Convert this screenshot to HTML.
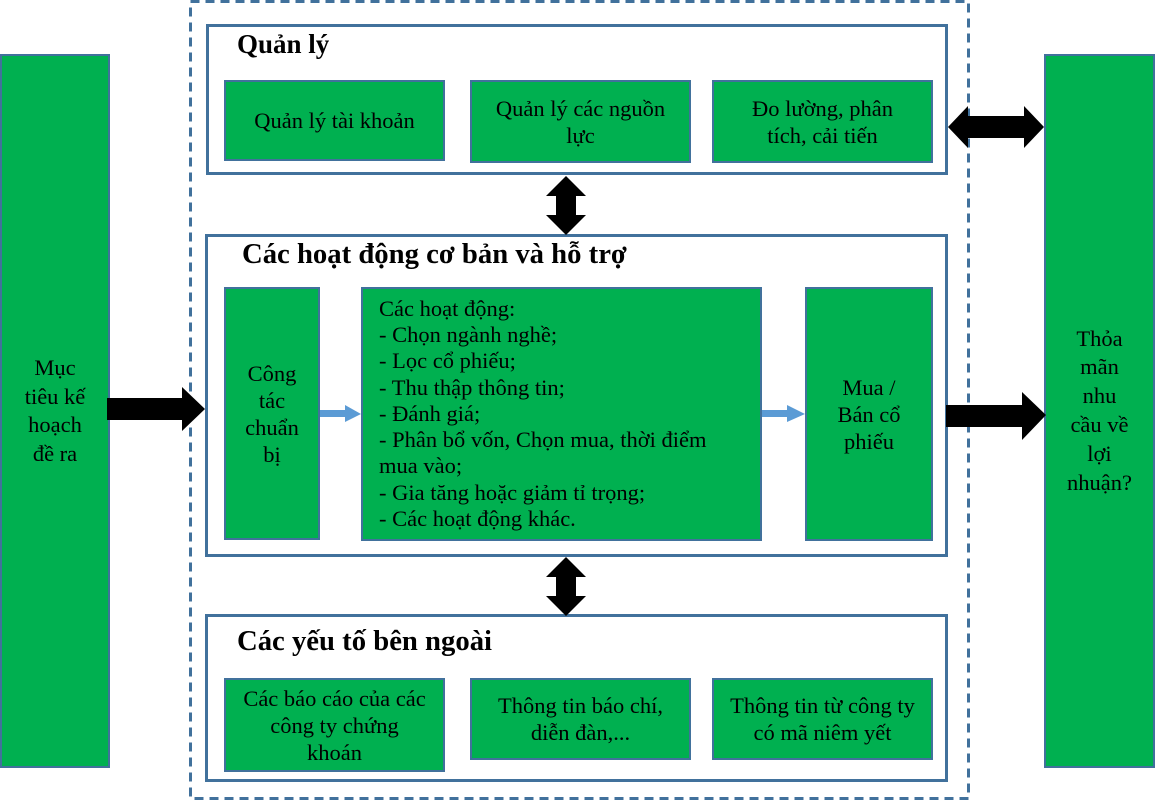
<!DOCTYPE html>
<html><head><meta charset="utf-8"><style>
body{margin:0;width:1155px;height:801px;position:relative;background:#fff;font-family:"Liberation Serif",serif;overflow:hidden}
.b{position:absolute;box-sizing:border-box}
.g{background:#00b050;border:2px solid #41719c;display:flex;align-items:center;justify-content:center;text-align:center;font-size:22.5px;line-height:27px;color:#000}
.p{border:3px solid #41719c;background:#fff}
.t{position:absolute;font-weight:bold;font-size:28.7px;white-space:nowrap}
</style></head><body>
<svg class="b" style="left:0;top:0" width="1155" height="801">
<rect x="190.5" y="1.5" width="778" height="797" fill="none" stroke="#41719c" stroke-width="3" stroke-dasharray="9,6"/>
</svg>
<div class="b g" style="left:0;top:54px;width:110px;height:714px;line-height:28.5px">Mục<br>tiêu kế<br>hoạch<br>đề ra</div>
<div class="b g" style="left:1044px;top:54px;width:111px;height:714px;line-height:28.8px">Thỏa<br>mãn<br>nhu<br>cầu về<br>lợi<br>nhuận?</div>

<div class="b p" style="left:206px;top:24px;width:742px;height:151px"></div>
<div class="t" style="left:237px;top:29px;font-size:27px">Quản lý</div>
<div class="b g" style="left:224px;top:80px;width:221px;height:81px">Quản lý tài khoản</div>
<div class="b g" style="left:470px;top:80px;width:221px;height:83px">Quản lý các nguồn<br>lực</div>
<div class="b g" style="left:712px;top:80px;width:221px;height:83px">Đo lường, phân<br>tích, cải tiến</div>

<div class="b p" style="left:205px;top:234px;width:743px;height:323px"></div>
<div class="t" style="left:242px;top:238px">Các hoạt động cơ bản và hỗ trợ</div>
<div class="b g" style="left:224px;top:287px;width:96px;height:253px">Công<br>tác<br>chuẩn<br>bị</div>
<div class="b g" style="left:361px;top:287px;width:401px;height:254px;justify-content:flex-start;text-align:left;padding-left:16px;line-height:26.3px;white-space:nowrap">Các hoạt động:<br>- Chọn ngành nghề;<br>- Lọc cổ phiếu;<br>- Thu thập thông tin;<br>- Đánh giá;<br>- Phân bổ vốn, Chọn mua, thời điểm<br>mua vào;<br>- Gia tăng hoặc giảm tỉ trọng;<br>- Các hoạt động khác.</div>
<div class="b g" style="left:805px;top:287px;width:128px;height:254px">Mua /<br>Bán cổ<br>phiếu</div>

<div class="b p" style="left:205px;top:614px;width:743px;height:168px"></div>
<div class="t" style="left:237px;top:625px">Các yếu tố bên ngoài</div>
<div class="b g" style="left:224px;top:678px;width:221px;height:94px">Các báo cáo của các<br>công ty chứng<br>khoán</div>
<div class="b g" style="left:470px;top:678px;width:221px;height:82px">Thông tin báo chí,<br>diễn đàn,...</div>
<div class="b g" style="left:712px;top:678px;width:221px;height:82px">Thông tin từ công ty<br>có mã niêm yết</div>

<svg class="b" style="left:0;top:0" width="1155" height="801">
<polygon points="566,176 586,196 576,196 576,215 586,215 566,235 546,215 556,215 556,196 546,196" fill="#000"/>
<polygon points="566,557 586,577 576,577 576,596 586,596 566,616 546,596 556,596 556,577 546,577" fill="#000"/>
<polygon points="948,127 968,106 968,116 1024,116 1024,106 1044,127 1024,148 1024,138 968,138 968,148" fill="#000"/>
<polygon points="107,398 182,398 182,387 205,409 182,431 182,420 107,420" fill="#000"/>
<polygon points="946,405 1022,405 1022,392 1046,415 1022,440 1022,427 946,427" fill="#000"/>
<polygon points="320,410 345,410 345,405 361,414 345,422 345,417 320,417" fill="#5b9bd5"/>
<polygon points="762,410 787,410 787,405 805,414 787,422 787,417 762,417" fill="#5b9bd5"/>
</svg>
</body></html>
